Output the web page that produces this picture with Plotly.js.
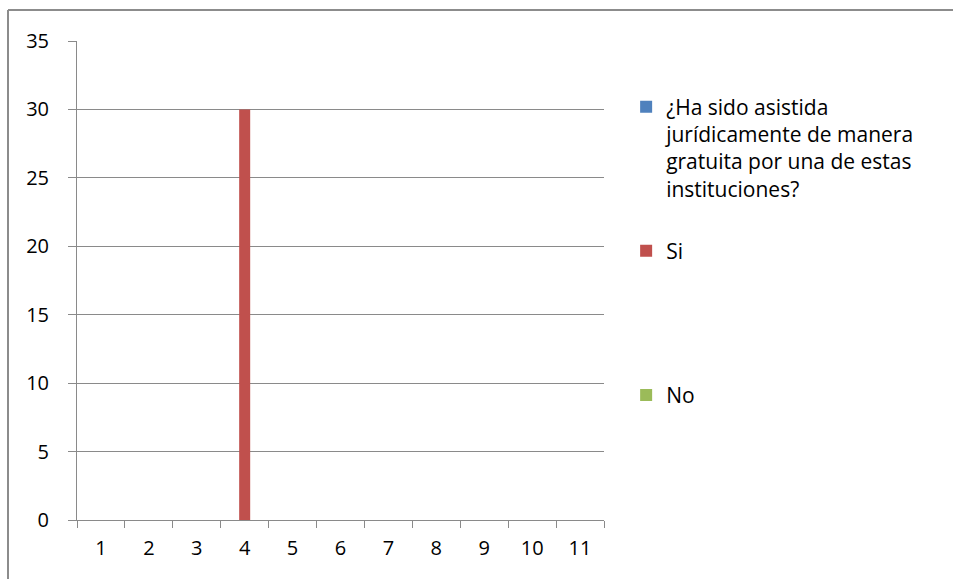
<!DOCTYPE html>
<html>
<head>
<meta charset="utf-8">
<script src="https://cdn.plot.ly/plotly-3.0.1.min.js"></script>
<style>
  html, body { margin: 0; padding: 0; background: #ffffff; overflow: hidden; }
  #chart { width: 953px; height: 579px; }
</style>
</head>
<body>
<div id="chart"></div>
<script>
// Categories on the x axis
const categories = ['1', '2', '3', '4', '5', '6', '7', '8', '9', '10', '11'];

// Series names (legend text)
const nameQuestion = '¿Ha sido asistida<br>jurídicamente de manera<br>gratuita por una de estas<br>instituciones?';
const nameSi = 'Si<br> <br> <br> ';
const nameNo = 'No';

// Series values
const valuesQuestion = [0, 0, 0, 0, 0, 0, 0, 0, 0, 0, 0];
const valuesSi = [0, 0, 0, 30, 0, 0, 0, 0, 0, 0, 0];
const valuesNo = [0, 0, 0, 0, 0, 0, 0, 0, 0, 0, 0];

// Y axis ticks
const yTicks = [0, 5, 10, 15, 20, 25, 30, 35];

const gridGray = '#8a8a8a';
const fontFamily = '"Open Sans", "Noto Sans", sans-serif';

const traces = [
  { type: 'bar', x: categories, y: valuesQuestion, name: nameQuestion, legendgroup: 'a',
    marker: { color: '#4F81BD' }, width: 0.23 },
  { type: 'bar', x: categories, y: valuesSi, name: nameSi, legendgroup: 'b',
    marker: { color: '#C0504D' }, width: 0.23 },
  { type: 'bar', x: categories, y: valuesNo, name: nameNo, legendgroup: 'c',
    marker: { color: '#9BBB59' }, width: 0.23 }
];

const layout = {
  width: 953,
  height: 579,
  margin: { l: 77, r: 349, t: 41, b: 59 },
  paper_bgcolor: '#ffffff',
  plot_bgcolor: '#ffffff',
  font: { family: fontFamily, size: 20, color: '#000000' },
  barmode: 'overlay',
  showlegend: true,
  legend: {
    x: 1.042, y: 0.905, xanchor: 'left', yanchor: 'top',
    valign: 'top',
    traceorder: 'grouped',
    tracegroupgap: 32,
    font: { family: fontFamily, size: 21, color: '#000000' },
    bgcolor: 'rgba(0,0,0,0)',
    itemclick: false
  },
  xaxis: {
    type: 'category',
    categoryorder: 'array',
    categoryarray: categories,
    tickson: 'boundaries',
    ticks: 'outside',
    ticklen: 7,
    tickcolor: gridGray,
    tickwidth: 1,
    showline: true,
    linecolor: gridGray,
    linewidth: 1,
    showgrid: false,
    zeroline: false,
    tickfont: { family: fontFamily, size: 20, color: '#000000' },
    ticklabelstandoff: 10,
    fixedrange: true
  },
  yaxis: {
    range: [0, 35],
    tickvals: yTicks,
    ticktext: yTicks.map(String),
    ticks: 'outside',
    ticklen: 8,
    tickcolor: gridGray,
    tickwidth: 1,
    showline: true,
    linecolor: gridGray,
    linewidth: 1,
    showgrid: true,
    gridcolor: gridGray,
    gridwidth: 1,
    zeroline: false,
    tickfont: { family: fontFamily, size: 20, color: '#000000' },
    ticklabelstandoff: 15,
    fixedrange: true
  },
  shapes: [
    { type: 'line', xref: 'paper', yref: 'paper',
      x0: (8 - 77) / 527, x1: (953 - 77) / 527, y0: (520 - 10) / 479, y1: (520 - 10) / 479,
      line: { color: '#8c8c8c', width: 2 } },
    { type: 'line', xref: 'paper', yref: 'paper',
      x0: (8 - 77) / 527, x1: (8 - 77) / 527, y0: (520 - 10) / 479, y1: (520 - 579) / 479,
      line: { color: '#8c8c8c', width: 2 } }
  ]
};

Plotly.newPlot('chart', traces, layout, { displayModeBar: false, staticPlot: true });
</script>
</body>
</html>
